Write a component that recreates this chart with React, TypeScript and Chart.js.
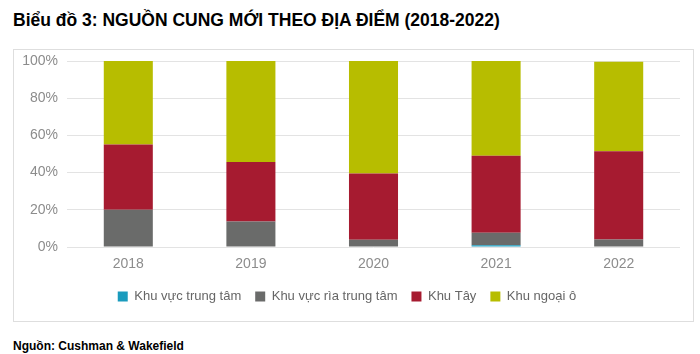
import React, { useEffect, useRef } from "react";
import { Chart, registerables } from "chart.js";

Chart.register(...registerables);

const categories = ["2018", "2019", "2020", "2021", "2022"];
const seriesNames = ["Khu vực trung tâm", "Khu vực rìa trung tâm", "Khu Tây", "Khu ngoại ô"];
const centralValues = [0, 0, 0, 1.0, 0];
const fringeValues = [20, 13.7, 3.9, 6.6, 4];
const westValues = [35.1, 32, 35.6, 41.4, 47.5];
const suburbValues = [44.9, 54.3, 60.5, 51, 48.1];
const yTicks = [0, 20, 40, 60, 80, 100];
const colors = ["#1a9bbd", "#6a6b6a", "#a61b30", "#b7bd00"];

export default function App() {
  const ref = useRef<HTMLCanvasElement>(null);
  useEffect(() => {
    if (!ref.current) return;
    const values = [centralValues, fringeValues, westValues, suburbValues];
    const chart = new Chart(ref.current, {
      type: "bar",
      data: {
        labels: categories,
        datasets: seriesNames.map((name, i) => ({
          label: name,
          data: values[i],
          backgroundColor: colors[i],
          borderWidth: 0,
          barPercentage: 0.4,
          categoryPercentage: 1,
        })),
      },
      options: {
        animation: false,
        responsive: false,
        devicePixelRatio: 1,
        layout: { padding: { left: 0, right: 13, top: 11, bottom: 8 } },
        plugins: {
          tooltip: { enabled: false },
          legend: {
            position: "bottom",
            labels: {
              boxWidth: 10,
              boxHeight: 10,
              padding: 14,
              color: "#666666",
              font: { family: "'Liberation Sans', Arial, sans-serif", size: 13 },
            },
          },
        },
        scales: {
          x: {
            stacked: true,
            grid: { display: false, drawTicks: false },
            border: { display: false },
            ticks: {
              color: "#8c8c8c",
              padding: 9,
              font: { family: "'Liberation Sans', Arial, sans-serif", size: 14 },
            },
            afterFit: (s: any) => {
              s.height = 29;
            },
          },
          y: {
            stacked: true,
            min: 0,
            max: 100,
            afterBuildTicks: (s: any) => {
              s.ticks = yTicks.map((v) => ({ value: v }));
            },
            grid: { color: "#e3e3e3", lineWidth: 1, drawTicks: false },
            border: { display: false },
            ticks: {
              color: "#8c8c8c",
              padding: 9,
              callback: (v: any) => v + "%",
              font: { family: "'Liberation Sans', Arial, sans-serif", size: 14 },
            },
            afterFit: (s: any) => {
              s.width = 53;
              s.paddingTop = 0;
            },
          },
        },
      },
    });
    return () => chart.destroy();
  }, []);

  return (
    <div style={{ position: "absolute", left: 0, top: 0, width: 700, height: 354, background: "#fff" }}>
      <div
        style={{
          position: "absolute",
          left: 13,
          top: 10,
          fontFamily: "'Liberation Sans', Arial, sans-serif",
          fontWeight: "bold",
          fontSize: 17.5,
          color: "#000",
          whiteSpace: "nowrap",
        }}
      >
        Biểu đồ 3: NGUỒN CUNG MỚI THEO ĐỊA ĐIỂM (2018-2022)
      </div>
      <div
        style={{
          position: "absolute",
          left: 13,
          top: 49,
          width: 679,
          height: 271,
          border: "1px solid #dedede",
        }}
      >
        <canvas ref={ref} width={679} height={271} style={{ display: "block" }} />
      </div>
      <div
        style={{
          position: "absolute",
          left: 13,
          top: 339,
          fontFamily: "'Liberation Sans', Arial, sans-serif",
          fontWeight: "bold",
          fontSize: 12,
          color: "#000",
          whiteSpace: "nowrap",
        }}
      >
        Nguồn: Cushman &amp; Wakefield
      </div>
    </div>
  );
}
